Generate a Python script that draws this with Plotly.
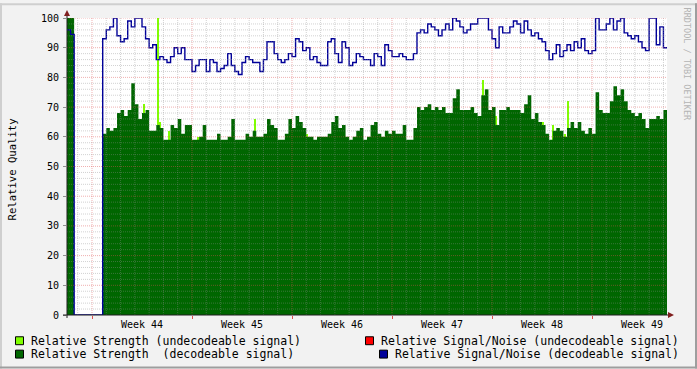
import plotly.graph_objects as go

# ---------------- data ----------------
start_day = -1.75          # days relative to the start of week 44
step_days = 0.25           # 6-hour consolidation step

strength_decodeable = [
    100, 100,
    0, 0, 0, 0, 0, 0, 0, 0,
    61, 63, 62, 63, 68, 69, 67, 69, 78, 71, 66, 68, 69, 62, 62, 64, 63, 59, 59,
    64, 63, 66, 61, 64, 64, 59, 59, 60, 64, 59, 59, 59, 61, 59, 59, 60, 66, 59, 59, 59, 61, 60, 62, 60, 60, 61, 66,
    64, 63, 59, 59, 61, 66, 63, 67, 65, 63, 60, 60, 59, 60, 60, 60, 61, 65, 67, 63, 64, 60, 59, 60, 62, 63, 59, 60,
    64, 65, 61, 60, 62, 61, 62, 61, 61, 64, 59, 59, 63, 70, 69, 70, 71, 69, 70, 69, 70, 68, 68, 73, 76, 69, 69, 69,
    70, 68, 67, 74, 76, 69, 70, 64, 69, 69, 70, 69, 69, 69, 68, 71, 74, 66, 68, 65, 64, 61, 59, 62, 63, 62, 60, 63,
    65, 63, 65, 62, 61, 63, 61, 75, 69, 68, 68, 72, 77, 74, 76, 72, 69, 68, 67, 68, 66, 63, 66, 66, 67, 66, 69,
]

snr_decodeable = [
    96, 94.5,
    0, 0, 0, 0, 0, 0, 0, 0,
    93, 96, 97, 100, 94, 92, 93, 99, 97, 100, 100, 97, 93, 90, 91, 86, 87, 86, 85,
    87, 90, 88, 90, 86, 86, 82, 84, 86, 86, 82, 86, 85, 82, 83, 84, 88, 84, 82, 81, 85, 87, 86, 85, 85, 82, 86, 92,
    92, 88, 86, 85, 86, 88, 87, 93, 92, 89, 90, 86, 87, 85, 84, 84, 92, 93, 88, 85, 92, 90, 84, 85, 88, 87, 86, 86,
    84, 88, 87, 84, 91, 89, 87, 87, 88, 87, 86, 86, 88, 95, 96, 95, 98, 97, 96, 94, 96, 98, 96, 100, 99, 97, 95, 96,
    98, 98, 100, 100, 100, 96, 93, 90, 97, 95, 95, 97, 99, 98, 95, 99, 96, 94, 95, 93, 92, 89, 86, 88, 91, 87, 89, 91,
    89, 92, 90, 93, 89, 88, 89, 100, 96, 96, 98, 100, 96, 99, 100, 95, 94, 93, 94, 92, 90, 89, 100, 100, 91, 97, 90,
]

undecodeable_days = [3.64, 4.655, 4.76, 5.39, 6.65, 7.42, 10.85, 11.41, 14.63, 15.05,
                     27.37, 28.28, 31.57, 32.27, 32.83, 33.11, 33.32, 33.6]
strength_undecodeable = [71, 100, 65, 62, 61, 60, 61, 66, 65, 61,
                         79, 67, 65, 64, 61, 61, 72, 64]

week_names = ["Week 44", "Week 45", "Week 46", "Week 47", "Week 48", "Week 49"]
week_label_days = [3.5, 10.5, 17.5, 24.5, 31.5, 38.5]
week_start_days = [0, 7, 14, 21, 28, 35]
y_ticks = [0, 10, 20, 30, 40, 50, 60, 70, 80, 90, 100]

legend_labels = [
    "Relative Strength (undecodeable signal)",
    "Relative Strength  (decodeable signal)",
    "Relative Signal/Noise (undecodeable signal)",
    "Relative Signal/Noise (decodeable signal)",
]

# ---------------- styling ----------------
W, H = 697, 369
L, R, T, B = 67, 30, 15, 54
MONO = "DejaVu Sans Mono"
C_LIME = "#80FF00"
C_GREEN = "#006600"
C_RED = "#FF0000"
C_NAVY = "#000099"
C_MGRID = "rgba(222,79,79,0.45)"
C_GRID = "rgba(143,143,143,0.4)"


def px(xp):
    return (xp - L) / (W - L - R)


def py(yp):
    return (H - B - yp) / (H - T - B)


n = len(strength_decodeable)
xs = [start_day + step_days * i for i in range(n + 1)]
x_end = xs[-1]
g_vals = strength_decodeable + [strength_decodeable[-1]]
b_vals = snr_decodeable + [snr_decodeable[-1]]

fig = go.Figure()

fig.add_trace(go.Bar(
    x=undecodeable_days, y=strength_undecodeable, width=0.08,
    marker=dict(color=C_LIME, line=dict(width=0)), showlegend=False,
))
fig.add_trace(go.Scatter(
    x=xs, y=g_vals, mode="lines", line=dict(shape="hv", width=0, color=C_GREEN),
    fill="tozeroy", fillcolor=C_GREEN, showlegend=False,
))
fig.add_trace(go.Scatter(
    x=xs, y=b_vals, mode="lines", line=dict(shape="hv", width=1.4, color=C_NAVY),
    showlegend=False,
))

shapes = []
# grid above the data, as rrdtool draws it
for d in range(-1, 41):
    shapes.append(dict(type="line", xref="x", yref="paper", x0=d, x1=d, y0=0, y1=1,
                       layer="above",
                       line=dict(color=C_MGRID if d % 7 == 0 else C_GRID, width=1, dash="1px,1px")))
for v in range(2, 101, 2):
    shapes.append(dict(type="line", xref="paper", yref="y", x0=0, x1=1, y0=v, y1=v,
                       layer="above",
                       line=dict(color=C_MGRID if v % 10 == 0 else C_GRID, width=1, dash="1px,1px")))

# axes lines
shapes.append(dict(type="line", xref="paper", yref="paper", x0=px(67), x1=px(67), y0=py(318), y1=py(12),
                   layer="above", line=dict(color="#1F1F1F", width=1)))
shapes.append(dict(type="line", xref="paper", yref="paper", x0=px(63), x1=px(669), y0=py(315), y1=py(315),
                   layer="above", line=dict(color="#1F1F1F", width=1)))
# arrows
shapes.append(dict(type="path", xref="paper", yref="paper", layer="above",
                   path=f"M {px(67)},{py(7)} L {px(64)},{py(13)} L {px(70)},{py(13)} Z",
                   fillcolor="#801F1F", line=dict(width=0)))
shapes.append(dict(type="path", xref="paper", yref="paper", layer="above",
                   path=f"M {px(674)},{py(315)} L {px(668)},{py(312)} L {px(668)},{py(318)} Z",
                   fillcolor="#801F1F", line=dict(width=0)))
# frame
shapes.append(dict(type="line", xref="paper", yref="paper", x0=px(0), x1=px(697), y0=py(1), y1=py(1),
                   line=dict(color="#CFCFCF", width=2)))
shapes.append(dict(type="line", xref="paper", yref="paper", x0=px(1), x1=px(1), y0=py(0), y1=py(369),
                   line=dict(color="#CFCFCF", width=2)))
shapes.append(dict(type="line", xref="paper", yref="paper", x0=px(0), x1=px(697), y0=py(368), y1=py(368),
                   line=dict(color="#9E9E9E", width=2)))
shapes.append(dict(type="line", xref="paper", yref="paper", x0=px(696), x1=px(696), y0=py(0), y1=py(369),
                   line=dict(color="#9E9E9E", width=2)))

# legend boxes
legend_items = [
    (15, 341, 28.5, C_LIME),
    (15, 354.5, 28.5, C_GREEN),
    (365, 341, 378.5, C_RED),
    (379, 354.5, 392.5, C_NAVY),
]
annotations = []
for (bx, cy, tx, col), lab in zip(legend_items, legend_labels):
    shapes.append(dict(type="rect", xref="paper", yref="paper",
                       x0=px(bx + 0.5), x1=px(bx + 8.5), y0=py(cy - 4), y1=py(cy + 4),
                       fillcolor=col, line=dict(color="#000000", width=1)))
    annotations.append(dict(xref="paper", yref="paper", x=px(tx), y=py(cy), text=lab.replace(" ", "&nbsp;"),
                            showarrow=False, xanchor="left", yanchor="middle",
                            font=dict(family=MONO, size=11.5, color="#000000")))

annotations.append(dict(xref="paper", yref="paper", x=px(12), y=py(168), text="Relative Quality",
                        textangle=-90, showarrow=False, xanchor="center", yanchor="middle",
                        font=dict(family=MONO, size=10.6, color="#000000")))
annotations.append(dict(xref="paper", yref="paper", x=px(687), y=py(61), text="RRDTOOL / TOBI OETIKER",
                        textangle=90, showarrow=False, xanchor="center", yanchor="middle",
                        font=dict(family=MONO, size=8.5, color="#B4B4B4")))

fig.update_layout(
    width=W, height=H,
    margin=dict(l=L, r=R, t=T, b=B, pad=0),
    paper_bgcolor="#F2F2F2", plot_bgcolor="#FFFFFF",
    barmode="overlay", bargap=0,
    showlegend=False,
    shapes=shapes, annotations=annotations,
    xaxis=dict(range=[start_day, x_end], tickmode="array", tickvals=week_label_days, ticktext=week_names,
               ticks="", showgrid=False, zeroline=False, showline=False, ticklabelstandoff=2,
               tickfont=dict(family=MONO, size=10, color="#000000"),
               minor=dict(tickmode="array", tickvals=week_start_days, ticks="outside", ticklen=3,
                          tickcolor="rgb(222,79,79)", showgrid=False),
               fixedrange=True),
    yaxis=dict(range=[0, 100], tickmode="array", tickvals=y_ticks, ticks="outside", ticklen=3,
               tickcolor="#8F8F8F", showgrid=False, zeroline=False, showline=False, ticklabelstandoff=2,
               tickfont=dict(family=MONO, size=10, color="#000000"), fixedrange=True),
)

fig.write_html("out.html", config={"displayModeBar": False},
               post_script="document.body.style.margin='0';document.body.style.padding='0';")
